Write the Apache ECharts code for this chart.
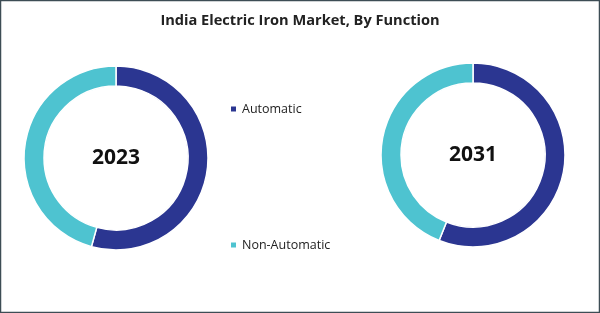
<!DOCTYPE html>
<html><head><meta charset="utf-8">
<script src="https://cdn.jsdelivr.net/npm/echarts@6/dist/echarts.min.js"></script>
<style>html,body{margin:0;padding:0;background:#fff}#c{width:600px;height:313px}</style>
</head><body><div id="c"></div>
<script>
const categories = ["Automatic", "Non-Automatic"];
const years = ["2023", "2031"];
const values2023 = [54.3, 45.7];
const values2031 = [56, 44];
const colors = ["#2B3691", "#4EC3D0"];

const chart = echarts.init(document.getElementById('c'));
function donut(name, vals, cx, cy) {
  return {
    name: name, type: 'pie', center: [cx, cy], radius: [72, 92],
    startAngle: 90, clockwise: true, silent: true,
    label: { show: true, position: 'center', formatter: name, fontSize: 21, fontWeight: 'bold', color: '#111', fontFamily: 'Open Sans' },
    labelLine: { show: false },
    itemStyle: { borderColor: '#fff', borderWidth: 1.5 },
    data: categories.map((c, i) => ({ name: c, value: vals[i] }))
  };
}
chart.setOption({
  animation: false,
  color: colors,
  title: { text: 'India Electric Iron Market, By Function', left: 'center', top: 8,
    textStyle: { fontSize: 14.6, fontWeight: 'bold', color: '#222', fontFamily: 'Open Sans' } },
  legend: { orient: 'vertical', left: 224, top: 97.5, itemGap: 123, icon: 'rect', itemWidth: 7, itemHeight: 7,
    data: categories,
    textStyle: { fontSize: 12.5, color: '#222', fontFamily: 'Open Sans' } },
  graphic: [{ type: 'rect', shape: { x: 0.5, y: 0.5, width: 599, height: 312 }, style: { fill: 'none', stroke: '#3d4d55', lineWidth: 1.5 }, silent: true }],
  series: [donut(years[0], values2023, 116, 158), donut(years[1], values2031, 473, 155)]
});
</script></body></html>
